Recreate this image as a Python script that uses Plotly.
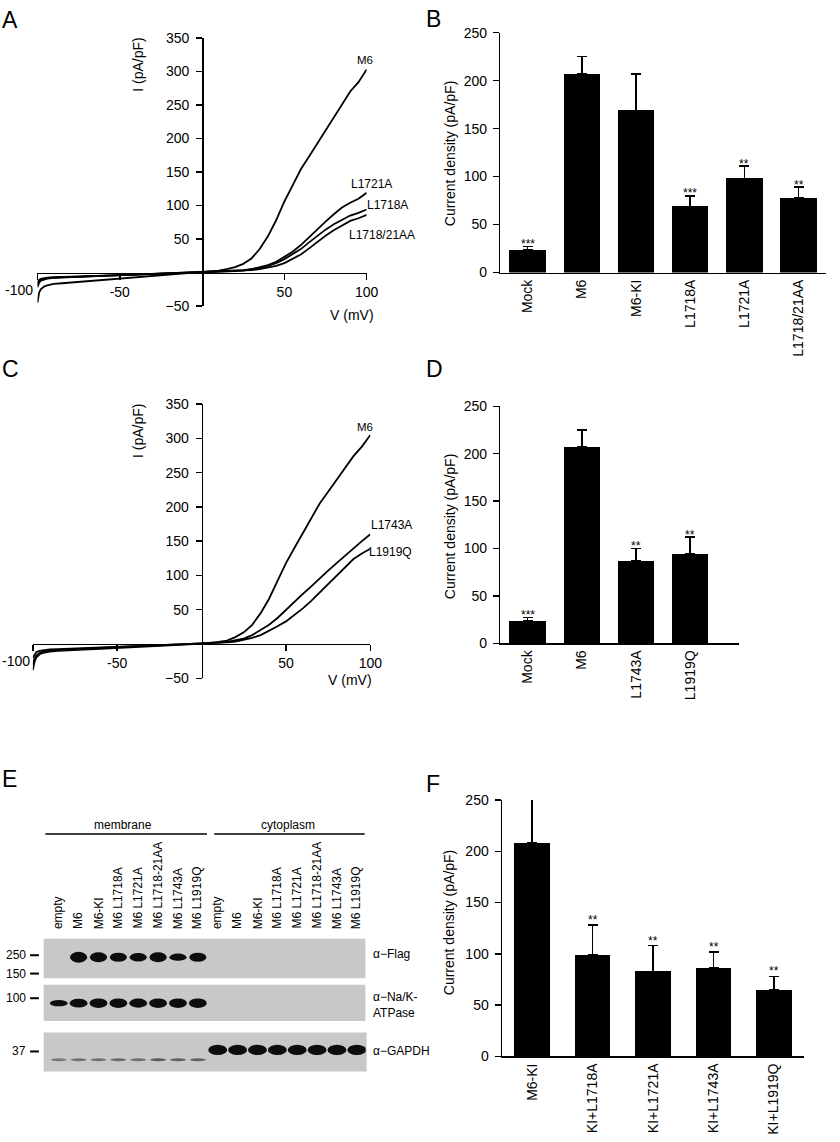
import plotly.graph_objects as go

W, H = 840, 1142
FONT = "Liberation Sans, Arial, sans-serif"


def fx(px):
    return px / W


def fy(py):
    return 1 - py / H


# ---------------- Data ----------------
V_pts = [-100, -99, -98, -96, -94, -90, -85, -80, -70, -60, -50, -40, -30, -20, -10,
         0, 5, 10, 15, 20, 25, 30, 35, 40, 45, 50, 55, 60, 65, 70, 75, 80, 85, 90, 95, 100]

A_M6 = [-45, -30, -25, -21, -19, -17, -16, -15, -13, -11.5, -10, -7.5, -5.5, -3.5, -1.5,
        0.5, 1.5, 3, 5, 8, 13, 21, 35, 54, 78, 106, 130, 154, 173, 192, 212, 231, 250, 270, 284, 303]
A_L1721A = [-22, -15, -12, -10, -9, -8, -7.5, -7, -6, -5, -4.5, -3.5, -2.5, -1.5, -0.5,
            0.5, 0.8, 1.2, 1.8, 2.5, 3.5, 5, 8, 11, 16, 23, 31, 41, 53, 65, 76, 87, 97, 104, 110, 119]
A_L1718A = [-18, -13, -11, -9, -8, -7.5, -7, -6.5, -5.5, -4.8, -4, -3.2, -2.3, -1.5, -0.5,
            0.5, 0.7, 1, 1.5, 2, 3, 4.5, 7, 10, 14, 20, 27, 35, 45, 55, 64, 72, 79, 85, 89, 94]
A_L1718_21AA = [-15, -11, -9.5, -8, -7.5, -7, -6.5, -6, -5, -4.5, -3.8, -3, -2.2, -1.3, -0.5,
                0.5, 0.7, 1, 1.4, 2, 2.7, 3.5, 5, 7, 10, 14, 20, 27, 36, 46, 55, 63, 70, 77, 81, 86]

C_M6 = [-38, -26, -20, -15, -13, -11, -10, -9, -8, -7, -6, -5, -3.5, -2.5, -1,
        0.5, 1.5, 3, 5, 10, 17, 28, 45, 66, 92, 118, 140, 162, 184, 205, 222, 239, 256, 274, 288, 305]
C_L1743A = [-30, -21, -17, -13, -11, -9.5, -8.5, -8, -7, -6, -5, -4, -3, -2, -1,
            0.5, 1, 2, 3, 5, 8, 13, 20, 28, 38, 50, 61, 73, 84, 96, 107, 118, 129, 140, 150, 160]
C_L1919Q = [-20, -15, -12, -10, -9, -8, -7.5, -7, -6, -5, -4.5, -3.5, -2.5, -1.5, -0.5,
            0.5, 0.8, 1.5, 2.5, 3.5, 6, 9, 13, 19, 26, 33, 42, 52, 63, 75, 88, 100, 112, 124, 132, 139]

IV_xticks = [-100, -50, 50, 100]
IV_yticks = [-50, 50, 100, 150, 200, 250, 300, 350]

B_cats = ["Mock", "M6", "M6-KI", "L1718A", "L1721A", "L1718/21AA"]
B_vals = [24, 207, 169, 69, 98, 78]
B_sem = [3, 18, 38, 11, 13, 11]
B_sig = ["***", "", "", "***", "**", "**"]

D_cats = ["Mock", "M6", "L1743A", "L1919Q"]
D_vals = [24, 207, 87, 94]
D_sem = [3, 18, 13, 18]
D_sig = ["***", "", "**", "**"]

F_cats = ["M6-KI", "KI+L1718A", "KI+L1721A", "KI+L1743A", "KI+L1919Q"]
F_vals = [208, 99, 83, 86, 65]
F_sem = [43, 29, 25, 16, 13]
F_sig = ["", "**", "**", "**", "**"]

bar_yticks = [0, 50, 100, 150, 200, 250]

lane_labels = ["empty", "M6", "M6-KI", "M6 L1718A", "M6 L1721A", "M6 L1718-21AA",
               "M6 L1743A", "M6 L1919Q"] * 2
flag_strength = [0, 1.0, 0.9, 0.8, 0.75, 0.9, 0.6, 0.8, 0, 0, 0, 0, 0, 0, 0, 0]
nak_strength = [0.55, 0.85, 0.95, 0.95, 0.9, 0.95, 0.95, 0.95, 0, 0, 0, 0, 0, 0, 0, 0]
gapdh_strength = [0, 0, 0, 0, 0, 0, 0, 0, 1, 1, 1, 1, 1, 1, 1, 1]
gapdh_faint = [0.3, 0.35, 0.35, 0.4, 0.35, 0.5, 0.45, 0.45, 0, 0, 0, 0, 0, 0, 0, 0]
mw_markers = [("250", 960.7), ("150", 979.3), ("100", 1004.3), ("37", 1058.3)]

# ---------------- Figure ----------------
fig = go.Figure()
annotations = []
shapes = []

line_kw = dict(color="black", width=1.8)

# IV panels
for xa, ya, series in [
    ("x", "y", [A_M6, A_L1721A, A_L1718A, A_L1718_21AA]),
    ("x3", "y3", [C_M6, C_L1743A, C_L1919Q]),
]:
    for s in series:
        fig.add_trace(go.Scatter(x=V_pts, y=s, mode="lines", xaxis=xa, yaxis=ya,
                                 line=line_kw, showlegend=False, hoverinfo="skip"))

# bar panels
for xa, ya, cats, vals, sem, sig, bw, shift in [
    ("x2", "y2", B_cats, B_vals, B_sem, B_sig, 0.67, 2.5),
    ("x4", "y4", D_cats, D_vals, D_sem, D_sig, 0.67, 2.5),
    ("x5", "y5", F_cats, F_vals, F_sem, F_sig, 0.59, 5),
]:
    fig.add_trace(go.Bar(x=list(range(len(cats))), y=vals, width=bw, xaxis=xa, yaxis=ya,
                         marker=dict(color="black", line=dict(width=0)),
                         error_y=dict(type="data", array=sem, arrayminus=[0] * len(sem),
                                      symmetric=False, color="black", thickness=1.5, width=5),
                         showlegend=False, hoverinfo="skip"))
    for i, (v, e, t) in enumerate(zip(vals, sem, sig)):
        if t:
            annotations.append(dict(x=i, y=v + e, xref=xa, yref=ya, text=t, showarrow=False,
                                    yanchor="middle", yshift=shift,
                                    font=dict(size=12, color="black", family=FONT)))

# blot helper trace
fig.add_trace(go.Scatter(x=list(range(16)), y=[0.5] * 16, xaxis="x6", yaxis="y6", mode="markers",
                         marker=dict(opacity=0), showlegend=False, hoverinfo="skip"))

axfont = dict(size=14, color="black", family=FONT)
common = dict(showgrid=False, zeroline=False, showline=True, linecolor="black", linewidth=1.5,
              ticks="outside", ticklen=6, tickwidth=1.5, tickcolor="black", tickfont=axfont)

layout = dict(
    width=W, height=H, margin=dict(l=0, r=0, t=0, b=0, pad=0), autosize=False,
    paper_bgcolor="white", plot_bgcolor="rgba(0,0,0,0)",
    font=dict(family=FONT, color="black"),
    showlegend=False,
    bargap=0,
    # A
    xaxis=dict(domain=[fx(38), fx(372)], range=[-100, 100], anchor="free", position=fy(268.3),
               tickvals=IV_xticks, ticktext=["" if v == -100 else str(v) for v in IV_xticks], **common),
    yaxis=dict(domain=[fy(302.3), fy(30.3)], range=[-50, 350], anchor="free", position=fx(205),
               tickvals=IV_yticks, ticklabelstandoff=4, **common),
    # C
    xaxis3=dict(domain=[fx(33.3), fx(375.7)], range=[-100, 100], anchor="free", position=fy(645),
                tickvals=IV_xticks, ticktext=["" if v == -100 else str(v) for v in IV_xticks], **common),
    yaxis3=dict(domain=[fy(679.8), fy(401.7)], range=[-50, 350], anchor="free", position=fx(204.5),
                tickvals=IV_yticks, ticklabelstandoff=4, **common),
)

for n, dom_x, rng, dom_y, cats in [
    (2, [507.7, 837.7], [-0.5, 5.5], [268.3, 25], B_cats),
    (4, [507.7, 749.7], [-0.5, 3.9], [644.3, 404], D_cats),
    (5, [509.3, 815.8], [-0.5, 4.5], [1063.3, 803.3], F_cats),
]:
    c = dict(common)
    layout[f"xaxis{n}"] = dict(c, domain=[fx(dom_x[0]), fx(dom_x[1])], range=rng, anchor=f"y{n}",
                               tickvals=list(range(len(cats))), ticktext=cats, tickangle=-90,
                               ticks="", ticklen=0, ticklabelstandoff=0)
    layout[f"yaxis{n}"] = dict(c, domain=[fy(dom_y[0]), fy(dom_y[1])], range=[0, 250], anchor=f"x{n}",
                               tickvals=bar_yticks, ticklabelstandoff=3)

# blot axes (hidden)
layout["xaxis6"] = dict(domain=[fx(44.3), fx(371)], range=[-0.758, 15.446], anchor="y6", visible=False)
layout["yaxis6"] = dict(domain=[fy(1079), fy(944)], range=[0, 1], anchor="x6", visible=False)


def ann(px, py, text, size=14, angle=0, xanchor="center", yanchor="middle", **kw):
    d = dict(x=fx(px), y=fy(py), xref="paper", yref="paper", text=text, showarrow=False,
             xanchor=xanchor, yanchor=yanchor, textangle=angle,
             font=dict(size=size, color="black", family=FONT))
    d.update(kw)
    annotations.append(d)


ann(35, 286, "-100", xanchor="right")
ann(32, 662, "-100", xanchor="right")
ann(140, 57.5, "I (pA/pF)", angle=-90)
ann(357.5, 311.7, "V (mV)")
ann(140, 429, "I (pA/pF)", angle=-90)
ann(355, 682, "V (mV)")
ann(370.5, 52.7, "M6", size=11.5)
ann(376.5, 178, "L1721A", size=12)
ann(393.5, 199.5, "L1718A", size=12)
ann(388, 230, "L1718/21AA", size=12)
ann(370, 425, "M6", size=11.5)
ann(397.5, 524, "L1743A", size=12)
ann(396, 551.7, "L1919Q", size=12)

ann(457.3, 147.5, "Current density (pA/pF)", angle=-90)
ann(457.3, 525.8, "Current density (pA/pF)", angle=-90)
ann(455, 926.7, "Current density (pA/pF)", angle=-90)

for letter, px, py in [("A", 0.5, 11.7), ("B", 430.5, 11.3), ("C", 0.5, 366.5), ("D", 430.5, 366.5),
                       ("E", 0.5, 781.5), ("F", 430.5, 787)]:
    ann(px, py, letter, size=23, xanchor="left")

# ---------------- Panel E: blot ----------------
ann(125, 828.3, "membrane", size=12)
ann(291.7, 828.3, "cytoplasm", size=12)
shapes.append(dict(type="line", xref="paper", yref="paper", x0=fx(46), x1=fx(210), y0=fy(837.7),
                   y1=fy(837.7), line=dict(color="black", width=1.5)))
shapes.append(dict(type="line", xref="paper", yref="paper", x0=fx(217.3), x1=fx(370), y0=fy(837.7),
                   y1=fy(837.7), line=dict(color="black", width=1.5)))

for i, lab in enumerate(lane_labels):
    annotations.append(dict(x=i, y=fy(936), xref="x6", yref="paper", text=lab, showarrow=False,
                            textangle=-90, xanchor="center", yanchor="bottom",
                            font=dict(size=12, color="black", family=FONT)))

for y0, y1, x1 in [(944, 984, 370.7), (990.7, 1027.3, 370.7), (1039, 1078.5, 372)]:
    shapes.append(dict(type="rect", xref="paper", yref="paper", x0=fx(44.3), x1=fx(x1),
                       y0=fy(y1), y1=fy(y0), fillcolor="#c8c8c8", line=dict(width=0), layer="below"))


def bands(strengths, cy, hmin, hscale, wlane, color):
    for i, s in enumerate(strengths):
        if s <= 0:
            continue
        h = hmin + hscale * s
        shapes.append(dict(type="circle", xref="x6", yref="paper",
                           x0=i - wlane / 2, x1=i + wlane / 2,
                           y0=fy(cy + h / 2), y1=fy(cy - h / 2),
                           fillcolor=color, line=dict(width=0)))


bands(flag_strength, 962.7, 2, 9, 0.86, "#0d0d0d")
bands(nak_strength, 1009.3, 2, 8, 0.9, "#0d0d0d")
bands(gapdh_strength, 1056.7, 1, 9.5, 0.95, "#0d0d0d")
for i, s in enumerate(gapdh_faint):
    if s > 0:
        shapes.append(dict(type="circle", xref="x6", yref="paper", x0=i - 0.4, x1=i + 0.4,
                           y0=fy(1068.2), y1=fy(1065.2),
                           fillcolor=f"rgba(40,40,40,{s + 0.2:.2f})", line=dict(width=0)))

for lab, py in mw_markers:
    ann(28, py, lab, size=12, xanchor="right")
    shapes.append(dict(type="line", xref="paper", yref="paper", x0=fx(30.5), x1=fx(39.5),
                       y0=fy(py), y1=fy(py), line=dict(color="black", width=2)))

ann(376, 959.3, "α−Flag", size=12, xanchor="left")
ann(376, 1011, "α−Na/K-<br>ATPase", size=12, xanchor="left", align="left")
ann(376, 1058, "α−GAPDH", size=12, xanchor="left")

layout["annotations"] = annotations
layout["shapes"] = shapes
fig.update_layout(**layout)

fig.write_html("out.html",
               config={"displayModeBar": False, "staticPlot": True},
               post_script="document.body.style.margin='0px';"
                           "document.body.style.overflow='hidden';"
                           "document.documentElement.style.overflow='hidden';")
